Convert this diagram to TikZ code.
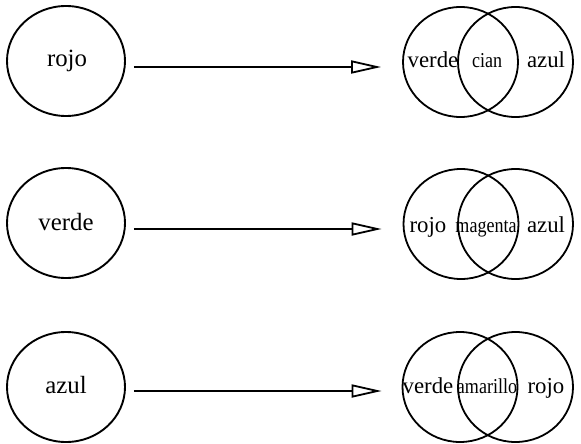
\documentclass[tikz,border=0pt]{standalone}
\usepackage{fontspec}
\setmainfont{Liberation Serif}
\usetikzlibrary{shapes.geometric,arrows.meta}
\begin{document}
\begin{tikzpicture}[x=0.5pt,y=-0.5pt,
  ring/.style={draw,ellipse,line width=0.95pt,minimum width=59pt,minimum height=55pt,inner sep=0pt},
  vring/.style={draw,ellipse,line width=0.9pt,minimum width=57.5pt,minimum height=55pt,inner sep=0pt},
  big/.style={anchor=base,inner sep=0pt,font=\fontsize{12.4}{14}\selectfont},
  side/.style={anchor=base,inner sep=0pt,font=\fontsize{11.4}{13}\selectfont},
  mid/.style={anchor=base,inner sep=0pt,xscale=0.85,font=\fontsize{10.6}{12}\selectfont},
  conn/.style={line width=1pt,-{Triangle[open,length=15pt,width=6.5pt,line width=0.9pt]}}]
\useasboundingbox (0,0) rectangle (581,443);
% left circles
\node[ring] (l1) at (66,61) {};
\node[ring] (l2) at (66,223) {};
\node[ring] (l3) at (66,387) {};
\node[big] (s1) at (67,67) {rojo};
\node[big] (s2) at (66,230) {verde};
\node[big] (s3) at (66,393) {azul};
% venn row 1
\node[vring] (a1) at (460.5,62) {};
\node[vring] (b1) at (515.5,62) {};
\node[side] (t1a) at (433,68) {verde};
\node[mid] (t1b) at (487,68) {cian};
\node[side] (t1c) at (546,68) {azul};
% venn row 2
\node[vring] (a2) at (461,224) {};
\node[vring] (b2) at (515.5,224) {};
\node[side] (t2a) at (428,232) {rojo};
\node[mid] (t2b) at (486,232) {magenta};
\node[side] (t2c) at (546,232) {azul};
% venn row 3
\node[vring] (a3) at (460,387) {};
\node[vring] (b3) at (515.5,387) {};
\node[side] (t3a) at (428,393) {verde};
\node[mid] (t3b) at (487,393) {amarillo};
\node[side] (t3c) at (546,393) {rojo};
% arrows
\draw[conn] ([shift={(8,6)}]l1.east) -- ([shift={(-21,5)}]a1.west);
\draw[conn] ([shift={(8,6)}]l2.east) -- ([shift={(-21,5)}]a2.west);
\draw[conn] ([shift={(8,4)}]l3.east) -- ([shift={(-20,4)}]a3.west);
\end{tikzpicture}
\end{document}
